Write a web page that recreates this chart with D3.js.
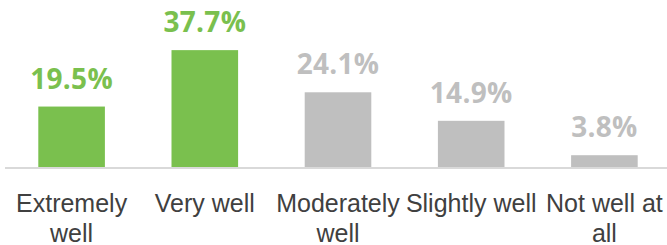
<!DOCTYPE html>
<html>
<head>
<meta charset="utf-8">
<script src="https://cdn.jsdelivr.net/npm/d3@7"></script>
<style>
  body { margin: 0; background: #ffffff; }
</style>
</head>
<body>
<div id="chart"></div>
<script>
// DATA
var categories = ["Extremely well", "Very well", "Moderately well", "Slightly well", "Not well at all"];
var values = [19.5, 37.7, 24.1, 14.9, 3.8];
var highlighted = [true, true, false, false, false];

// COLORS and FONTS
var green = "#7ac04e";
var gray = "#bfbfbf";
var axisColor = "#d9d9d9";
var labelColor = "#404040";
var valueFont = "'Open Sans',Arial,sans-serif";
var catFont = "'Liberation Sans',Arial,sans-serif";

var width = 667;
var height = 245;
var baseline = 167;

var svg = d3.select("#chart").append("svg")
  .attr("width", width)
  .attr("height", height);

var x = d3.scaleBand()
  .domain(categories)
  .range([5, 671])
  .paddingInner(0.5)
  .paddingOuter(0.25);

var y = d3.scaleLinear()
  .domain([0, 40])
  .range([baseline, 43]);

// bars
svg.selectAll("rect.bar")
  .data(values)
  .enter().append("rect")
  .attr("class", "bar")
  .attr("x", function(d, i) { return x(categories[i]); })
  .attr("y", function(d) { return y(d); })
  .attr("width", x.bandwidth())
  .attr("height", function(d) { return y(0) - y(d); })
  .attr("fill", function(d, i) { return highlighted[i] ? green : gray; });

// axis line
svg.append("line")
  .attr("x1", 5)
  .attr("x2", width)
  .attr("y1", baseline + 1)
  .attr("y2", baseline + 1)
  .attr("stroke", axisColor)
  .attr("stroke-width", 2);

// value labels
svg.selectAll("text.value")
  .data(values)
  .enter().append("text")
  .attr("class", "value")
  .attr("x", function(d, i) { return x(categories[i]) + x.bandwidth() / 2; })
  .attr("y", function(d) { return y(d) - 18; })
  .attr("text-anchor", "middle")
  .attr("font-family", valueFont)
  .attr("font-weight", "bold")
  .attr("font-size", 28)
  .attr("letter-spacing", 0.3)
  .attr("fill", function(d, i) { return highlighted[i] ? green : gray; })
  .text(function(d) { return d.toFixed(1) + "%"; });

// category labels, wrapped to the band step
var cat = svg.selectAll("text.cat")
  .data(categories)
  .enter().append("text")
  .attr("class", "cat")
  .attr("x", function(d) { return x(d) + x.bandwidth() / 2; })
  .attr("y", 212)
  .attr("text-anchor", "middle")
  .attr("font-family", catFont)
  .attr("font-size", 25)
  .attr("fill", labelColor);

cat.each(function(d) {
  var el = d3.select(this);
  var cx = x(d) + x.bandwidth() / 2;
  var words = d.split(" ");
  var line = [];
  var tspan = el.append("tspan").attr("x", cx).attr("dy", 0);
  words.forEach(function(w) {
    line.push(w);
    tspan.text(line.join(" "));
    if (tspan.node().getComputedTextLength() > x.step() && line.length > 1) {
      line.pop();
      tspan.text(line.join(" "));
      line = [w];
      tspan = el.append("tspan").attr("x", cx).attr("dy", 29.5).text(w);
    }
  });
});
</script>
</body>
</html>
